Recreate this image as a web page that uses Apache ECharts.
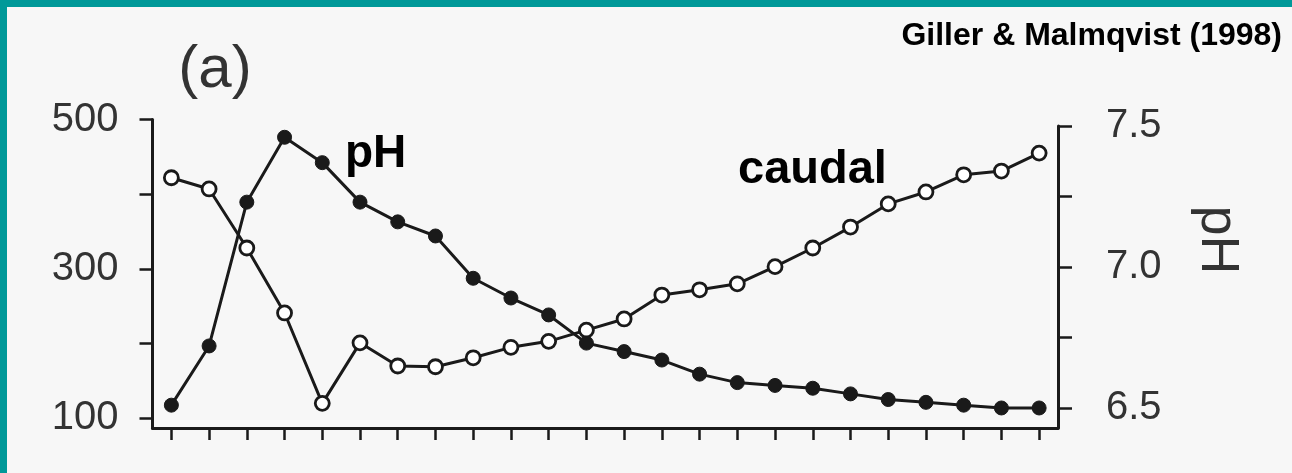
<!DOCTYPE html>
<html>
<head>
<meta charset="utf-8">
<title>Caudal y pH</title>
<script src="https://cdn.jsdelivr.net/npm/echarts@6/dist/echarts.min.js"></script>
<style>
  html, body { margin: 0; padding: 0; background: #009999; }
  #chart { width: 1292px; height: 473px; }
</style>
</head>
<body>
<div id="chart"></div>
<script>
// Sampling periods along the horizontal axis
const periods = ['1', '2', '3', '4', '5', '6', '7', '8', '9', '10', '11', '12',
                 '13', '14', '15', '16', '17', '18', '19', '20', '21', '22', '23', '24'];

// Discharge (caudal), left axis
const caudal = [422, 407, 328, 241, 120, 201, 170, 169, 181, 195, 203, 218,
                233, 265, 272, 280, 303, 328, 356, 387, 403, 426, 431, 455];

// pH, right axis
const ph = [6.51, 6.72, 7.23, 7.46, 7.37, 7.23, 7.16, 7.11, 6.96, 6.89, 6.83, 6.73,
            6.70, 6.67, 6.62, 6.59, 6.58, 6.57, 6.55, 6.53, 6.52, 6.51, 6.50, 6.50];

// Tick positions and labelled ticks
const caudalTicks = [100, 200, 300, 400, 500];
const caudalLabels = [100, 300, 500];
const phTicks = [6.5, 6.75, 7.0, 7.25, 7.5];
const phLabels = [6.5, 7.0, 7.5];

const INK = '#1a1a1a';
const GREY_TEXT = '#333333';
const FONT = '"Liberation Sans", Arial, Helvetica, sans-serif';

const chart = echarts.init(document.getElementById('chart'), null, { renderer: 'canvas' });

chart.setOption({
  animation: false,
  backgroundColor: '#009999',
  textStyle: { fontFamily: FONT },
  graphic: [
    {
      type: 'rect', silent: true, z: -10,
      shape: { x: 7, y: 7, width: 1285, height: 466 },
      style: { fill: '#f7f7f7' }
    },
    {
      type: 'text', x: 215, y: 70,
      style: { text: '(a)', fontSize: 60, fontFamily: FONT, fill: GREY_TEXT,
               align: 'center', verticalAlign: 'middle' }
    },
    {
      type: 'text', x: 1282, y: 36,
      style: { text: 'Giller & Malmqvist (1998)', fontSize: 32, fontWeight: 'bold',
               fontFamily: FONT, fill: '#000', align: 'right', verticalAlign: 'middle' }
    },
    {
      type: 'text', x: 345, y: 154,
      style: { text: 'pH', fontSize: 46, fontWeight: 'bold', fontFamily: FONT,
               fill: '#000', align: 'left', verticalAlign: 'middle' }
    },
    {
      type: 'text', x: 738, y: 170,
      style: { text: 'caudal', fontSize: 47, fontWeight: 'bold', fontFamily: FONT,
               fill: '#000', align: 'left', verticalAlign: 'middle' }
    }
  ],
  grid: [
    { left: 152.5, top: 119.5, width: 905.5, height: 308.5, containLabel: false },
    { left: 152.5, top: 126, width: 905.5, height: 302, containLabel: false }
  ],
  xAxis: [
    {
      type: 'category', gridIndex: 0, data: periods, boundaryGap: true,
      axisLine: { show: true, onZero: false, lineStyle: { color: INK, width: 3 } },
      axisTick: { show: true, alignWithLabel: true, inside: false, length: 12,
                  lineStyle: { color: INK, width: 2.5 } },
      axisLabel: { show: false },
      splitLine: { show: false }
    },
    {
      type: 'category', gridIndex: 1, data: periods, boundaryGap: true, show: false
    }
  ],
  yAxis: [
    {
      type: 'value', gridIndex: 0, position: 'left', min: 87, max: 500,
      axisLine: { show: true, lineStyle: { color: INK, width: 3 } },
      axisTick: { show: true, inside: false, length: 13, customValues: caudalTicks,
                  lineStyle: { color: INK, width: 2.5 } },
      axisLabel: { show: true, customValues: caudalLabels, fontSize: 40, color: GREY_TEXT,
                   margin: 34, padding: [0, 0, 8, 0] },
      splitLine: { show: false }
    },
    {
      type: 'value', gridIndex: 1, position: 'right', min: 6.429, max: 7.5,
      axisLine: { show: true, lineStyle: { color: INK, width: 3 } },
      axisTick: { show: true, inside: false, length: 14, customValues: phTicks,
                  lineStyle: { color: INK, width: 2.5 } },
      axisLabel: { show: true, customValues: phLabels, fontSize: 40, color: GREY_TEXT,
                   margin: 48, formatter: v => v.toFixed(1) },
      splitLine: { show: false },
      name: 'pH', nameLocation: 'middle', nameRotate: -90, nameGap: 132,
      nameTextStyle: { fontSize: 54, color: GREY_TEXT, padding: [0, 74, 0, 0] }
    }
  ],
  series: [
    {
      name: 'caudal', type: 'line', xAxisIndex: 0, yAxisIndex: 0, data: caudal,
      symbol: 'circle', symbolSize: 14, showAllSymbol: true,
      lineStyle: { color: INK, width: 3 },
      itemStyle: { color: '#ffffff', borderColor: INK, borderWidth: 2.8 },
      z: 3
    },
    {
      name: 'pH', type: 'line', xAxisIndex: 1, yAxisIndex: 1, data: ph,
      symbol: 'circle', symbolSize: 14, showAllSymbol: true,
      lineStyle: { color: INK, width: 3 },
      itemStyle: { color: INK, borderColor: INK, borderWidth: 1 },
      z: 4
    }
  ]
});
</script>
</body>
</html>
